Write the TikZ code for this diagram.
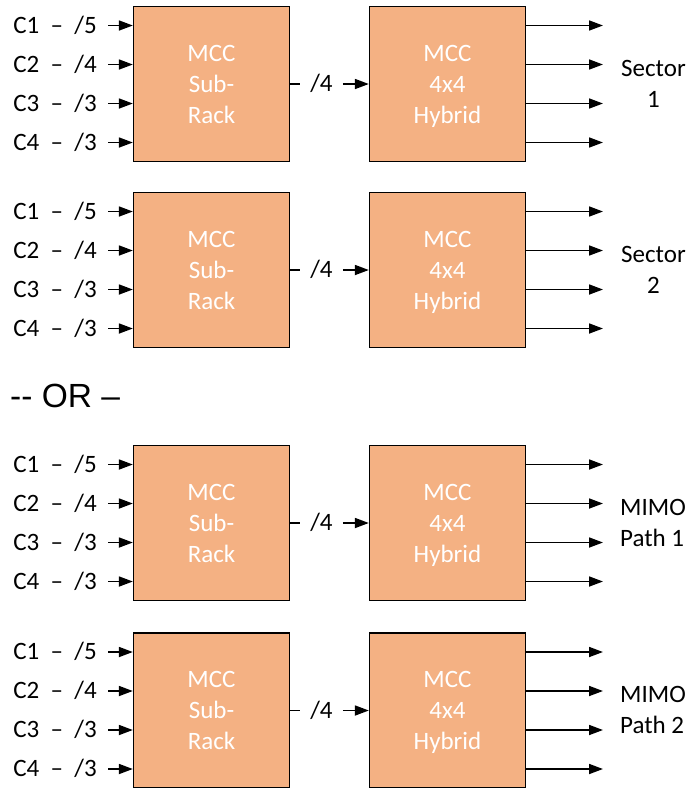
\documentclass[tikz,border=0pt]{standalone}
\usepackage{fontspec}
\setmainfont{Carlito}
\newfontfamily\arialfont{Liberation Sans}
\usepackage{xcolor}
\usepackage{tikz}
\usetikzlibrary{arrows.meta}
\definecolor{RackOrange}{HTML}{F4B183}
\tikzset{
  block/.style={draw=black, line width=1.3pt, fill=RackOrange,
    minimum width=156pt, minimum height=155pt, inner sep=0pt,
    align=center, text=white, font=\fontsize{25}{31}\selectfont,
    text depth=0pt},
  lbl/.style={font=\fontsize{25}{31}\selectfont, inner sep=0pt,
    text height=15.8pt, text depth=0pt},
  side/.style={font=\fontsize{25}{31.5}\selectfont, inner sep=0pt},
  feed/.style={line width=1.7pt, -{Triangle[length=14pt,width=10pt]}},
  stub/.style={line width=1.7pt},
}

\begin{document}
\begin{tikzpicture}[x=1pt,y=-1pt]
  \useasboundingbox (0,0) rectangle (691,788);

  % ----- FOUR CHAINS -----
  \foreach \g/\yc in {1/84,2/270,3/523,4/710.5} {%
    \node[block] (sr\g) at (211.5,\yc) {MCC\\Sub-\\Rack};
    \node[block] (hy\g) at (447.5,\yc) {MCC\\4x4\\Hybrid};
    % carriers in
    \foreach \i/\n in {1/5,2/4,3/3,4/3} {%
      \node[lbl, anchor=east] (c\g\i) at (97,{\yc-97.5+39*\i}) {C\i\ \ –\ \ /\n};
      \draw[feed] ([xshift=11pt]c\g\i.east) -- (sr\g.west |- c\g\i.east);
    }%
    % sub-rack to hybrid
    \node[lbl, inner xsep=10pt] (m\g) at (321.5,\yc) {/4};
    \draw[stub] (sr\g.east) -- (m\g.west);
    \draw[feed] (m\g.east) -- (hy\g.west);
    % ports out
    \foreach \i in {1,...,4} {%
      \coordinate (o\g\i) at (603,{\yc-97.5+39*\i});
      \draw[feed] (hy\g.east |- o\g\i) -- (o\g\i);
    }%
  }%

  % ----- SIDE LABELS -----
  \node[side, align=center] (sec1) at (653.5,84) {Sector\\1};
  \node[side, align=center] (sec2) at (653.5,270) {Sector\\2};
  \node[side, align=left, anchor=west] (mimo1) at (620,523) {MIMO\\Path 1};
  \node[side, align=left, anchor=west] (mimo2) at (620,710) {MIMO\\Path 2};

  \node[anchor=base west, inner sep=0pt, font=\arialfont\fontsize{33.5}{40}\selectfont]
    (orsep) at (10,407) {-\kern0pt- OR –};
\end{tikzpicture}
\end{document}
